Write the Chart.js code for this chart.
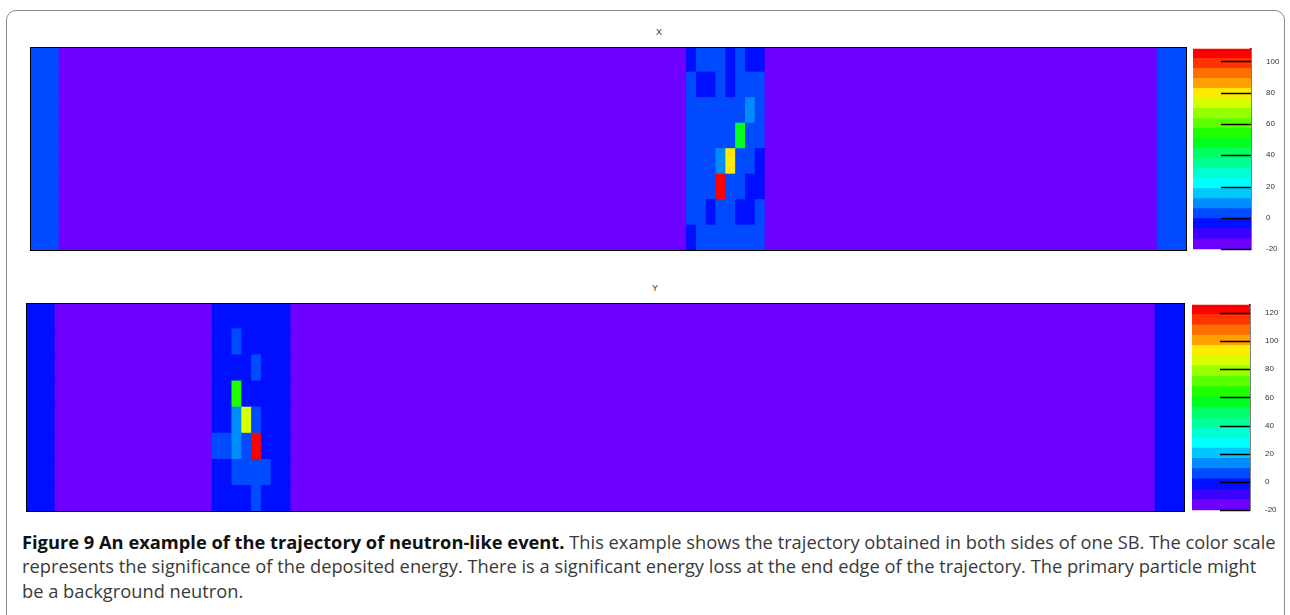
<!DOCTYPE html>
<html>
<head>
<meta charset="utf-8">
<script src="https://cdn.jsdelivr.net/npm/chart.js@4.4.1/dist/chart.umd.min.js"></script>
<style>
  body { margin: 0; background: #fff; width: 1290px; height: 615px; overflow: hidden; position: relative; font-family: Arial, "Liberation Sans", sans-serif; }
  .frame { position: absolute; left: 6px; top: 10px; width: 1277px; height: 660px; border: 1.5px solid #8c8c8c; border-radius: 10px; }
  canvas { position: absolute; }
  .ptitle { position: absolute; font-size: 9px; color: #333; }
  .caption { position: absolute; left: 22px; top: 530px; font-family: "Open Sans", sans-serif; font-size: 18.3px; line-height: 24.3px; color: #3a3a3a; white-space: nowrap; }
  .caption b { color: #111; }
</style>
</head>
<body>
<div class="frame"></div>

<div class="ptitle" style="left:656px; top:27px;">X</div>
<canvas id="mapX" width="1157" height="204" style="left:30px; top:47px;"></canvas>
<canvas id="barX" width="98" height="224" style="left:1193px; top:37px;"></canvas>

<div class="ptitle" style="left:652px; top:283px;">Y</div>
<canvas id="mapY" width="1159" height="209" style="left:26px; top:303px;"></canvas>
<canvas id="barY" width="98" height="229" style="left:1192px; top:293px;"></canvas>

<div class="caption">
  <b>Figure 9 An example of the trajectory of neutron-like event.</b> This example shows the trajectory obtained in both sides of one SB. The color scale<br>
  represents the significance of the deposited energy. There is a significant energy loss at the end edge of the trajectory. The primary particle might<br>
  be a background neutron.
</div>

<script>
// ---- data ----
const nBins = 118;     // strips along the bar
const nRows = 8;       // layers
const edgeBins = 3;    // end strips on both sides

// X side
const xRange = [-20, 108];
const xBackground = -16;
const xEdge = 2;
const xClusterStart = 67;
// rows from top to bottom, 8 strips each
const xCluster = [
  [-4, 2, 2, 2, -4, 2, -4, -4],
  [2, -4, -4, 2, -4, 2, 2, 2],
  [2, 2, 2, 2, 2, 2, 8, 2],
  [2, 2, 2, 2, 2, 45, 2, 2],
  [2, 2, 2, 8, 80, 2, 2, -4],
  [2, 2, 2, 105, 2, 2, -4, -4],
  [2, 2, -4, 2, 2, -4, -4, 2],
  [-4, 2, 2, 2, 2, 2, 2, 2],
];

// Y side
const yRange = [-20, 125.6];
const yBackground = -16;
const yEdge = -2;
const yClusterStart = 19;
const yCluster = [
  [-2, -2, -2, -2, -2, -2, -2, -2],
  [-2, -2, 5, -2, -2, -2, -2, -2],
  [-2, -2, -2, -2, 5, -2, -2, -2],
  [-2, -2, 62, -2, -2, -2, -2, -2],
  [-2, -2, 12, 85, 5, -2, -2, -2],
  [5, 5, 12, 5, 122, -2, -2, -2],
  [-2, -2, 5, 5, 5, 5, -2, -2],
  [-2, -2, -2, -2, 5, -2, -2, -2],
];

const xScaleTicks = [-20, 0, 20, 40, 60, 80, 100];
const yScaleTicks = [-20, 0, 20, 40, 60, 80, 100, 120];

// 20-level rainbow palette, low to high
const palette = [
  '#6e00ff', '#3c00ff', '#000fff', '#004bff', '#008cff',
  '#00c8ff', '#00ffff', '#00ffd2', '#00ff96', '#00ff64',
  '#00ff1e', '#1eff00', '#5aff00', '#96ff00', '#d7ff00',
  '#ffeb00', '#ffa000', '#ff6e00', '#ff3200', '#ff0000',
];

function colorFor(v, range) {
  let band = Math.floor((v - range[0]) / (range[1] - range[0]) * palette.length);
  band = Math.max(0, Math.min(palette.length - 1, band));
  return palette[band];
}

function buildGrid(background, edge, start, cluster) {
  const grid = [];
  for (let r = 0; r < nRows; r++) {
    const row = [];
    for (let c = 0; c < nBins; c++) {
      let v = background;
      if (c < edgeBins || c >= nBins - edgeBins) v = edge;
      if (c >= start && c < start + cluster[r].length) v = cluster[r][c - start];
      row.push(v);
    }
    grid.push(row);
  }
  return grid;
}

const frame = {
  id: 'frame',
  afterDraw(chart) {
    const a = chart.chartArea;
    const ctx = chart.ctx;
    ctx.save();
    ctx.strokeStyle = '#000';
    ctx.lineWidth = 1;
    ctx.strokeRect(a.left + 0.5, a.top + 0.5, a.width - 1, a.height - 1);
    ctx.restore();
  }
};

function createMap(canvasId, grid, range) {
  const labels = [];
  for (let c = 0; c < nBins; c++) labels.push(c);
  const datasets = [];
  // stacked bars build from the bottom, so the last grid row goes first
  for (let r = nRows - 1; r >= 0; r--) {
    datasets.push({
      data: labels.map(() => 1),
      backgroundColor: grid[r].map(v => colorFor(v, range)),
      borderWidth: 0,
      inflateAmount: 0.8,  // no hairline seams between cells
      barPercentage: 1,
      categoryPercentage: 1,
    });
  }
  return new Chart(document.getElementById(canvasId), {
    type: 'bar',
    data: { labels: labels, datasets: datasets },
    options: {
      responsive: false,
      animation: false,
      layout: { padding: 0 },
      scales: {
        x: { stacked: true, display: false },
        y: { stacked: true, display: false, min: 0, max: nRows },
      },
      plugins: { legend: { display: false }, tooltip: { enabled: false } },
    },
    plugins: [frame],
  });
}

const innerTicks = {
  id: 'innerTicks',
  afterDatasetsDraw(chart) {
    const s = chart.scales.y;
    const a = chart.chartArea;
    const ctx = chart.ctx;
    ctx.save();
    ctx.strokeStyle = '#000';
    ctx.lineWidth = 1.5;
    s.ticks.forEach(t => {
      const y = Math.round(s.getPixelForValue(t.value)) + 0.5;
      ctx.beginPath();
      ctx.moveTo(a.right - 30, y);
      ctx.lineTo(a.right, y);
      ctx.stroke();
    });
    ctx.restore();
  }
};

function createColorBar(canvasId, range, tickValues) {
  const step = (range[1] - range[0]) / palette.length;
  const datasets = palette.map((col, i) => ({
    data: [[range[0] + i * step, range[0] + (i + 1) * step]],
    backgroundColor: col,
    borderWidth: 0,
    inflateAmount: 0.8,
    grouped: false,
    barPercentage: 1,
    categoryPercentage: 1,
  }));
  return new Chart(document.getElementById(canvasId), {
    type: 'bar',
    data: { labels: [''], datasets: datasets },
    options: {
      responsive: false,
      animation: false,
      layout: { padding: { top: 10, bottom: 10, left: 0, right: 0 } },
      scales: {
        x: { display: false },
        y: {
          position: 'right',
          min: range[0],
          max: range[1],
          afterBuildTicks: (scale) => { scale.ticks = tickValues.map(v => ({ value: v })); },
          afterFit: (scale) => { scale.width = 40; },
          grid: { display: false },
          border: { display: true, color: '#000', width: 1.5 },
          ticks: { color: '#333', font: { size: 8, family: 'Arial' }, padding: 7 },
        },
      },
      plugins: { legend: { display: false }, tooltip: { enabled: false } },
    },
    plugins: [innerTicks],
  });
}

createMap('mapX', buildGrid(xBackground, xEdge, xClusterStart, xCluster), xRange);
createColorBar('barX', xRange, xScaleTicks);
createMap('mapY', buildGrid(yBackground, yEdge, yClusterStart, yCluster), yRange);
createColorBar('barY', yRange, yScaleTicks);
</script>
</body>
</html>
